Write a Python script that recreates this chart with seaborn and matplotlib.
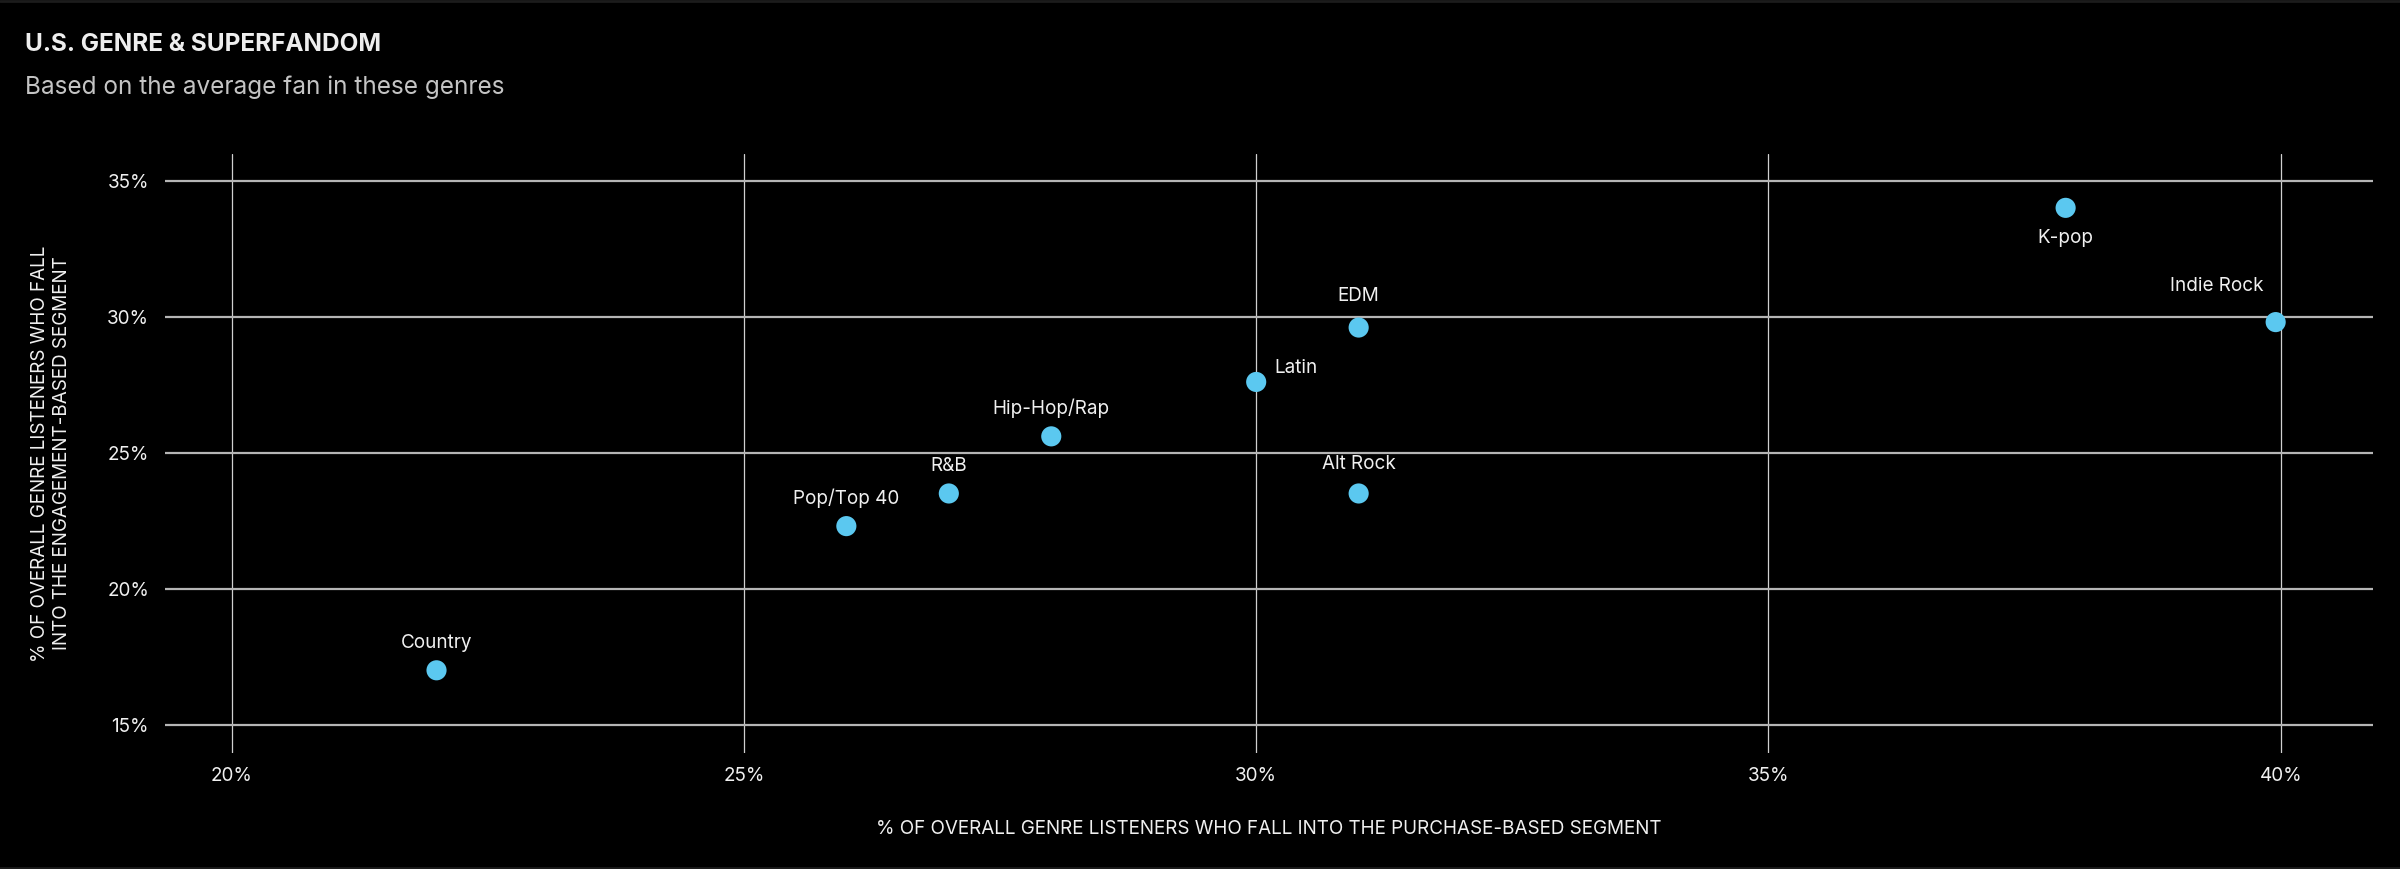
import pandas as pd
import matplotlib.pyplot as plt
import seaborn as sns

# Data
genres = ['Country', 'Pop/Top 40', 'R&B', 'Hip-Hop/Rap', 'Latin',
          'EDM', 'Alt Rock', 'K-pop', 'Indie Rock']
purchase_pct = [22.0, 26.0, 27.0, 28.0, 30.0, 31.0, 31.0, 37.9, 39.95]
engagement_pct = [17.0, 22.3, 23.5, 25.6, 27.6, 29.6, 23.5, 34.0, 29.8]
x_ticks = [20, 25, 30, 35, 40]
y_ticks = [15, 20, 25, 30, 35]

df = pd.DataFrame({'genre': genres, 'purchase': purchase_pct,
                   'engagement': engagement_pct})

# label placement (offset in points, ha)
label_pos = {
    'Country': ((0, 20), 'center'),
    'Pop/Top 40': ((0, 20), 'center'),
    'R&B': ((0, 20), 'center'),
    'Hip-Hop/Rap': ((0, 20), 'center'),
    'Latin': ((13, 10), 'left'),
    'EDM': ((0, 23), 'center'),
    'Alt Rock': ((0, 21), 'center'),
    'K-pop': ((0, -22), 'center'),
    'Indie Rock': ((-9, 26), 'right'),
}

sns.set_style("dark", {'axes.facecolor': 'black', 'figure.facecolor': 'black'})
plt.rcParams['font.family'] = ['Inter', 'DejaVu Sans']
FS = 13.6

fig = plt.figure(figsize=(24, 8.69), dpi=100, facecolor='black')
ax = fig.add_axes([0.06875, 0.1335, 0.92, 0.6893])
ax.set_facecolor('black')

sns.scatterplot(data=df, x='purchase', y='engagement', ax=ax,
                color='#5BC8F0', s=210, edgecolor='none', zorder=3)

for g, xv, yv in zip(genres, purchase_pct, engagement_pct):
    off, ha = label_pos[g]
    ax.annotate(g, (xv, yv), xytext=off, textcoords='offset points',
                ha=ha, va='center', color='#f0f0f0', fontsize=FS)

ax.set_xlim(19.35, 40.9)
ax.set_ylim(13.96, 35.98)
ax.set_xticks(x_ticks)
ax.set_yticks(y_ticks)
ax.set_xticklabels([f'{t}%' for t in x_ticks])
ax.set_yticklabels([f'{t}%' for t in y_ticks])
ax.tick_params(axis='both', length=0, colors='#f0f0f0', labelsize=FS)
ax.tick_params(axis='x', pad=10)
ax.tick_params(axis='y', pad=11.5)

ax.yaxis.grid(True, color='#b5b5b5', linewidth=1.6)
ax.xaxis.grid(True, color='#d0d0d0', linewidth=0.9)
ax.set_axisbelow(True)
for sp in ax.spines.values():
    sp.set_visible(False)

ax.set_xlabel('% OF OVERALL GENRE LISTENERS WHO FALL INTO THE PURCHASE-BASED SEGMENT',
              color='#f0f0f0', fontsize=FS, labelpad=25)
ax.set_ylabel('% OF OVERALL GENRE LISTENERS WHO FALL\nINTO THE ENGAGEMENT-BASED SEGMENT',
              color='#f0f0f0', fontsize=FS, labelpad=26, linespacing=1.3)

fig.text(0.0104, 0.949, 'U.S. GENRE & SUPERFANDOM', color='#eeeeee',
         fontsize=17.5, fontweight='bold', va='center', ha='left')
fig.text(0.0104, 0.900, 'Based on the average fan in these genres', color='#c4c4c4',
         fontsize=17.5, va='center', ha='left')

# thin frame lines at top and bottom edges of the image
fig.add_artist(plt.Line2D([0, 1], [0.999, 0.999], transform=fig.transFigure,
                          color='#1c1c1c', linewidth=2))
fig.add_artist(plt.Line2D([0, 1], [0.001, 0.001], transform=fig.transFigure,
                          color='#1c1c1c', linewidth=2))

fig.savefig('out.png', dpi=100, facecolor='black')
